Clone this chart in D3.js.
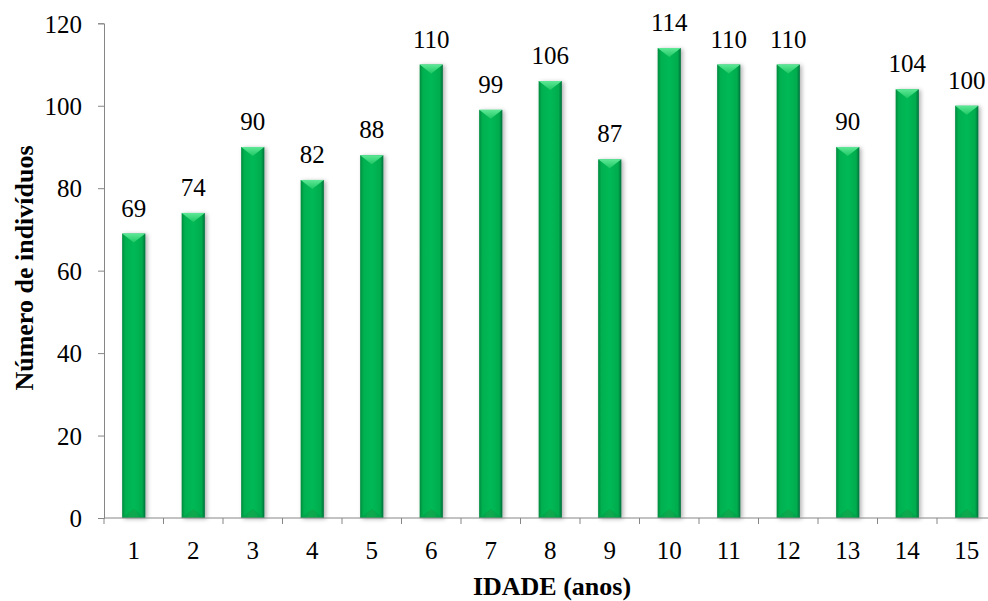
<!DOCTYPE html>
<html>
<head>
<meta charset="utf-8">
<script src="https://cdn.jsdelivr.net/npm/d3@7"></script>
<style>
  body { margin: 0; background: #fff; }
  svg text { font-family: "Liberation Serif", "Times New Roman", serif; fill: #000; }
  .axis path, .axis line { stroke: #868686; }
</style>
</head>
<body>
<div id="chart"></div>
<script>
// ages (x categories) and counts
const ages = ['1','2','3','4','5','6','7','8','9','10','11','12','13','14','15'];
const counts = [69, 74, 90, 82, 88, 110, 99, 106, 87, 114, 110, 110, 90, 104, 100];
const yTicks = [0, 20, 40, 60, 80, 100, 120];

const width = 988, height = 601;
const plotLeft = 104, plotTop = 23.3, plotBottom = 518;
const band = 59.5;

const svg = d3.select('#chart').append('svg')
    .attr('width', width)
    .attr('height', height);

const defs = svg.append('defs');

// horizontal shading of the bar body
const grad = defs.append('linearGradient').attr('id', 'barGrad')
    .attr('x1', '0%').attr('x2', '100%').attr('y1', '0%').attr('y2', '0%');
grad.append('stop').attr('offset', '0%').attr('stop-color', '#078a3e');
grad.append('stop').attr('offset', '14%').attr('stop-color', '#00b050');
grad.append('stop').attr('offset', '50%').attr('stop-color', '#06b955');
grad.append('stop').attr('offset', '86%').attr('stop-color', '#00ac4e');
grad.append('stop').attr('offset', '100%').attr('stop-color', '#05703a');

const bevel = defs.append('linearGradient').attr('id', 'bevelGrad')
    .attr('x1', '0%').attr('x2', '0%').attr('y1', '0%').attr('y2', '100%');
bevel.append('stop').attr('offset', '0%').attr('stop-color', '#5ee896');
bevel.append('stop').attr('offset', '100%').attr('stop-color', '#1ec864');

const shadow = defs.append('filter').attr('id', 'shadow')
    .attr('x', '-40%').attr('y', '-10%').attr('width', '180%').attr('height', '120%');
shadow.append('feDropShadow')
    .attr('dx', 2).attr('dy', 1).attr('stdDeviation', 2)
    .attr('flood-color', '#000').attr('flood-opacity', 0.3);

const x = d3.scaleBand()
    .domain(ages)
    .range([plotLeft, plotLeft + band * ages.length])
    .paddingInner(0.61)
    .paddingOuter(0.305);

const y = d3.scaleLinear()
    .domain([0, 120])
    .range([plotBottom, plotTop]);

// bars
const bars = svg.append('g').selectAll('g')
    .data(ages)
    .enter()
    .append('g')
    .attr('filter', 'url(#shadow)');

bars.append('rect')
    .attr('x', d => x(d))
    .attr('y', (d, i) => y(counts[i]))
    .attr('width', x.bandwidth())
    .attr('height', (d, i) => plotBottom - y(counts[i]))
    .attr('fill', 'url(#barGrad)');

// top bevel triangle
bars.append('path')
    .attr('d', (d, i) => {
        const x0 = x(d), x1 = x(d) + x.bandwidth(), yt = y(counts[i]);
        const xm = (x0 + x1) / 2;
        return `M${x0},${yt}L${x1},${yt}L${xm},${yt + 9}Z`;
    })
    .attr('fill', 'url(#bevelGrad)');

// faint bottom bevel
bars.append('path')
    .attr('d', d => {
        const x0 = x(d), x1 = x(d) + x.bandwidth();
        const xm = (x0 + x1) / 2;
        return `M${x0},${plotBottom}L${x1},${plotBottom}L${xm},${plotBottom - 9}Z`;
    })
    .attr('fill', '#0a9f49')
    .attr('opacity', 0.6);

// value labels
svg.append('g').selectAll('text')
    .data(ages)
    .enter()
    .append('text')
    .attr('x', d => x(d) + x.bandwidth() / 2)
    .attr('y', (d, i) => y(counts[i]) - 17)
    .attr('text-anchor', 'middle')
    .style('font-size', '25px')
    .text((d, i) => counts[i]);

// y axis
const yAxis = svg.append('g')
    .attr('class', 'axis')
    .attr('transform', `translate(${plotLeft},0)`)
    .call(d3.axisLeft(y).tickValues(yTicks).tickSize(6).tickPadding(16));
yAxis.selectAll('text').style('font-size', '25px').attr('dy', '0.35em');

// x axis, ticks on category boundaries
const xAxis = svg.append('g')
    .attr('class', 'axis')
    .attr('transform', `translate(0,${plotBottom})`);
xAxis.append('line')
    .attr('x1', plotLeft).attr('x2', width)
    .attr('y1', 0).attr('y2', 0);
xAxis.selectAll('.tick-mark')
    .data(ages)
    .enter()
    .append('line')
    .attr('class', 'tick-mark')
    .attr('x1', (d, i) => plotLeft + i * band)
    .attr('x2', (d, i) => plotLeft + i * band)
    .attr('y1', 0).attr('y2', 6);
xAxis.selectAll('.tick-label')
    .data(ages)
    .enter()
    .append('text')
    .attr('class', 'tick-label')
    .attr('x', d => x(d) + x.bandwidth() / 2)
    .attr('y', 41)
    .attr('text-anchor', 'middle')
    .style('font-size', '25px')
    .text(d => d);

// axis titles
svg.append('text')
    .attr('x', 552)
    .attr('y', 595)
    .attr('text-anchor', 'middle')
    .style('font-size', '26px')
    .style('font-weight', 'bold')
    .text('IDADE (anos)');

svg.append('text')
    .attr('transform', 'translate(33,268) rotate(-90)')
    .attr('text-anchor', 'middle')
    .style('font-size', '26px')
    .style('font-weight', 'bold')
    .text('Número de indivíduos');
</script>
</body>
</html>
